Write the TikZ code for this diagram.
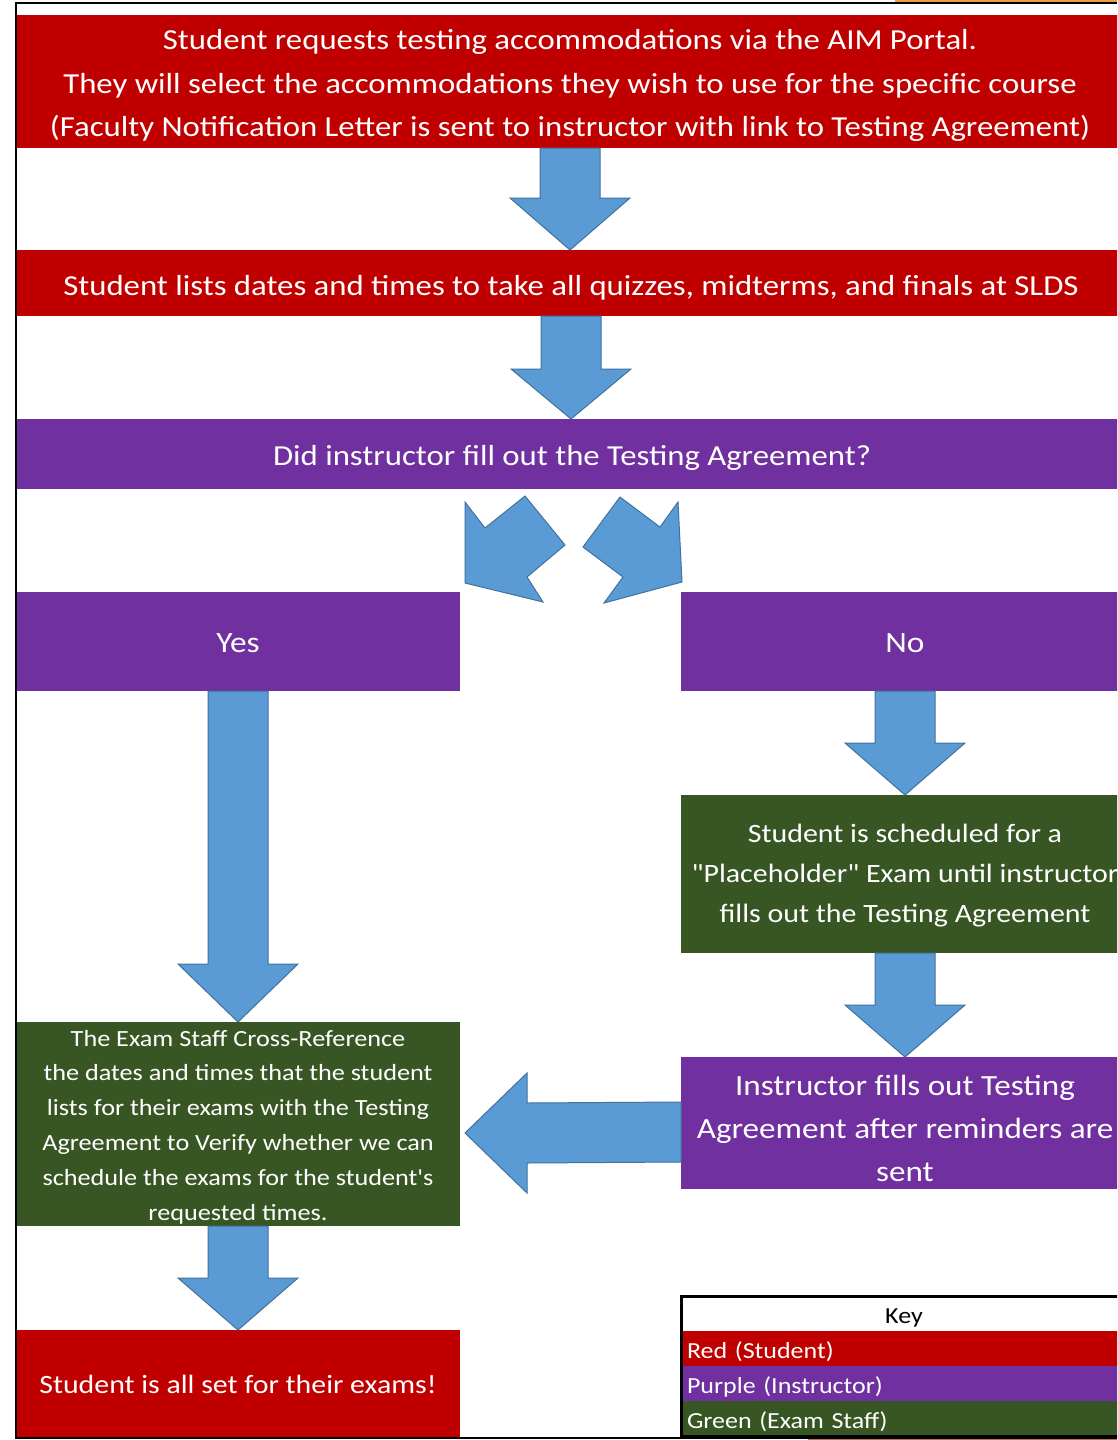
\documentclass[tikz,border=0pt]{standalone}
\usepackage{fontspec}
\setmainfont{Carlito}[FakeStretch=1.13]
\newfontfamily\plainfont{Carlito}[FakeStretch=1.13,Ligatures=TeXOff]
\usetikzlibrary{calc}
\definecolor{cred}{HTML}{C00000}
\definecolor{cpurple}{HTML}{7030A0}
\definecolor{cgreen}{HTML}{375623}
\definecolor{cblue}{HTML}{5B9BD5}
\definecolor{cblueline}{HTML}{41719C}
\definecolor{corange}{HTML}{E8A33D}
\definecolor{cbrown}{HTML}{B8743E}
\newcommand\fs[2]{\fontsize{#1}{#2}\selectfont}
\newcommand\lift[1]{\rule{0pt}{#1pt}}
\newcommand\dq{{\plainfont"}}
\newcommand\sq{{\plainfont'}}
\newcommand\downblock[3]{%
  \draw[blockarrow] ($(#1)+(-30,0)$) -- ($(#2)+(-30,-#3)$) -- ($(#2)+(-60,-#3)$) -- (#2)
    -- ($(#2)+(60,-#3)$) -- ($(#2)+(30,-#3)$) -- ($(#1)+(30,0)$) -- cycle;}
\newcommand\leftblock[3]{%
  \draw[blockarrow] ($(#1)+(0,-30)$) -- ($(#2)+(#3,-30)$) -- ($(#2)+(#3,-60)$) -- (#2)
    -- ($(#2)+(#3,60)$) -- ($(#2)+(#3,30)$) -- ($(#1)+(0,30)$) -- cycle;}
\begin{document}
\begin{tikzpicture}[x=1pt,y=-1pt,
  box/.style={rectangle, inner sep=0pt, outer sep=0pt, text=white, align=center},
  redbox/.style={box, fill=cred},
  purplebox/.style={box, fill=cpurple},
  greenbox/.style={box, fill=cgreen},
  keyrow/.style={rectangle, outer sep=0pt, inner ysep=0pt, inner xsep=6pt, text width=434pt,
     minimum height=35pt, align=left, text=white, font=\fs{23}{28}},
  blockarrow/.style={fill=cblue, draw=cblueline, line width=1pt, line join=miter},
  frame/.style={line width=2pt, draw=black}
]
\clip (0,0) rectangle (1117,1440);
\fill[white] (0,0) rectangle (1117,1440);
\fill[corange] (895,0) rectangle (1117,2.5);
\fill[cbrown] (808,1438.5) rectangle (1117,1440);

% boxes
\node[redbox, minimum width=1108pt, minimum height=133pt, font=\fs{29}{43.5}] (req) at (570,81.5)
  {\lift{28}Student requests testing accommodations via the AIM Portal.\\
   They will select the accommodations they wish to use for the specific course\\
   (Faculty Notification Letter is sent to instructor with link to Testing Agreement)};
\node[redbox, minimum width=1110pt, minimum height=66pt, font=\fs{29}{43.5}] (dates) at (571,283)
  {\lift{29}Student lists dates and times to take all quizzes, midterms, and finals at SLDS};
\node[purplebox, minimum width=1112pt, minimum height=70pt, font=\fs{29}{43.5}] (q) at (572,454)
  {\lift{28}Did instructor fill out the Testing Agreement?};
\node[purplebox, minimum width=444pt, minimum height=99pt, font=\fs{29.5}{43.5}] (yes) at (238,641.5) {\lift{23}Yes};
\node[purplebox, minimum width=448pt, minimum height=99pt, font=\fs{29.5}{43.5}] (no) at (905,641.5) {\lift{23}No};
\node[greenbox, minimum width=448pt, minimum height=158pt, font=\fs{26.5}{40}] (gr) at (905,874)
  {\lift{22}Student is scheduled for a\\ \dq Placeholder\dq{} Exam until instructor\\ fills out the Testing Agreement};
\node[purplebox, minimum width=448pt, minimum height=132pt, font=\fs{29.3}{43}] (pr) at (905,1123)
  {\lift{32}Instructor fills out Testing\\ Agreement after reminders are\\ sent};
\node[greenbox, minimum width=444pt, minimum height=204pt, font=\fs{23.2}{34.8}] (gl) at (238,1124)
  {\lift{22}The Exam Staff Cross-Reference\\ the dates and times that the student\\ lists for their exams with the Testing\\
   Agreement to Verify whether we can\\ schedule the exams for the student\sq s\\ requested times.};
\node[redbox, minimum width=444pt, minimum height=108pt, font=\fs{26.4}{40}] (fin) at (238,1384)
  {Student is all set for their exams!};

% key
\node[rectangle, inner sep=0pt, outer sep=0pt, minimum width=446pt, minimum height=35pt, fill=white,
  font=\fs{23}{28}] (keyh) at (904,1313.5) {\lift{24}Key};
\node[keyrow, fill=cred, anchor=north] (kr) at (keyh.south) {\lift{23}Red (Student)};
\node[keyrow, fill=cpurple, anchor=north] (kp) at (kr.south) {\lift{23}Purple (Instructor)};
\node[keyrow, fill=cgreen, anchor=north] (kg) at (kp.south) {\lift{23}Green (Exam Staff)};
\draw[line width=3pt] (keyh.north west) rectangle (kg.south east);

% arrows
\downblock{req.south}{req.south |- dates.north}{52}
\downblock{dates.south}{dates.south |- q.north}{50}
\downblock{yes.south}{yes.south |- gl.north}{58}
\downblock{no.south}{no.south |- gr.north}{52}
\downblock{gr.south}{gr.south |- pr.north}{52}
\downblock{gl.south}{gl.south |- fin.north}{52}
\coordinate (ls) at ($(pr.west)+(0,9)$);
\coordinate (lt) at ($(gl.east)+(5,9)$);
\leftblock{ls}{lt}{62}
% diagonal split arrows from the question box
\draw[blockarrow] (465,502) -- (485,528) -- (525,496) -- (565,545) -- (527,577) -- (543,602) -- (465,583) -- cycle;
\draw[blockarrow] (678,502) -- (660,527) -- (620,497) -- (583,547) -- (623,577) -- (604,603) -- (682,582) -- cycle;

% outer frame
\draw[frame] (1117,3) -- (16,3) -- (16,1438) -- (1117,1438);
\end{tikzpicture}
\end{document}
